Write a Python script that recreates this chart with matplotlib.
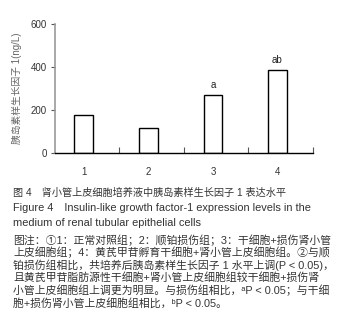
import matplotlib
matplotlib.use("Agg")
import matplotlib.pyplot as plt
from matplotlib.ticker import FixedLocator

plt.rcParams['font.family'] = ['Liberation Sans', 'Noto Sans CJK SC', 'DejaVu Sans']

# data
groups = ['1', '2', '3', '4']
values = [177, 117, 271, 387]
marks = ['', '', 'a', 'ab']
yticks = [0, 200, 400, 600]

ylabel = '胰岛素样生长因子 1(ng/L)'
title_cn = '图 4　肾小管上皮细胞培养液中胰岛素样生长因子 1 表达水平'
title_en = ['Figure 4　Insulin-like growth factor-1 expression levels in the',
            'medium of renal tubular epithelial cells']
notes = [
    '图注：①1：正常对照组；2：顺铂损伤组；3：干细胞+损伤肾小管',
    '上皮细胞组；4：黄芪甲苷孵育干细胞+肾小管上皮细胞组。②与顺',
    '铂损伤组相比，共培养后胰岛素样生长因子 1 水平上调(P < 0.05)，',
    '且黄芪甲苷脂肪源性干细胞+肾小管上皮细胞组较干细胞+损伤肾',
    '小管上皮细胞组上调更为明显。与损伤组相比，ᵃP < 0.05；与干细',
    '胞+损伤肾小管上皮细胞组相比，ᵇP < 0.05。',
]

W, H = 346, 335
fig = plt.figure(figsize=(W / 100, H / 100), dpi=100)
ax = fig.add_axes([55 / W, 1 - 153 / H, 258 / W, 128.5 / H])

x = list(range(len(groups)))
ax.bar(x, values, width=0.29, color='white', edgecolor='black', linewidth=1.0)
for xi, v, m in zip(x, values, marks):
    if m:
        ax.text(xi, v + 25, m, ha='center', va='bottom', fontsize=7, color='#222222')

ax.set_xlim(-0.445, 3.55)
ax.set_ylim(0, 600)
ax.set_yticks(yticks)
ax.set_xticks(x)
ax.set_xticklabels(groups)
ax.xaxis.set_minor_locator(FixedLocator([0.55, 1.55, 2.55, 3.55]))
ax.tick_params(axis='x', which='major', length=0, pad=10, labelsize=7, labelcolor='#333333')
ax.tick_params(axis='x', which='minor', direction='in', length=4, width=0.8, color='#555555')
ax.tick_params(axis='y', direction='out', length=3, width=0.8, color='#555555',
               labelsize=7, labelcolor='#333333', pad=3)

for s in ['top', 'right']:
    ax.spines[s].set_visible(False)
ax.spines['left'].set_color('#999999')
ax.spines['left'].set_linewidth(1.2)
ax.spines['bottom'].set_color('black')
ax.spines['bottom'].set_linewidth(1.0)

fig.text(17 / W, 1 - 88 / H, ylabel, rotation=90, ha='center', va='center',
         fontsize=7, color='#666666')

# caption
fig.text(13 / W, 1 - 193 / H, title_cn, ha='left', va='center', fontsize=7.3, color='#333333')
for i, line in enumerate(title_en):
    fig.text(13 / W, 1 - (208 + 15 * i) / H, line, ha='left', va='center',
             fontsize=7.9, color='#333333')
for i, line in enumerate(notes):
    fig.text(13 / W, 1 - (240 + 12.6 * i) / H, line, ha='left', va='center',
             fontsize=7.8, color='#333333')

fig.savefig('out.png', dpi=100)
